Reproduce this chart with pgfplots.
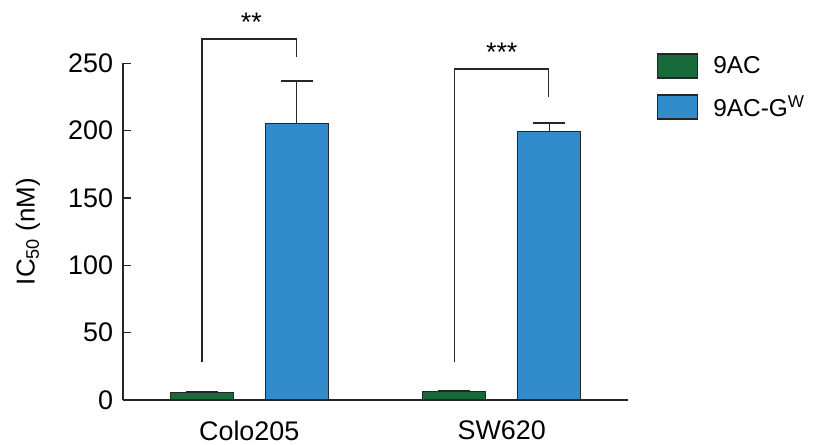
\documentclass[border=0pt]{standalone}
\usepackage{pgfplots}
\pgfplotsset{compat=1.18}
\usepackage{fontspec}
\setmainfont{Liberation Sans}
\definecolor{cGreen}{RGB}{24,106,58}
\definecolor{cBlue}{RGB}{50,140,204}
\definecolor{cEdge}{RGB}{38,38,38}

\begin{document}
\begin{tikzpicture}
\useasboundingbox (-123bp,-45bp) rectangle (693bp,400bp);
\begin{axis}[
    scale only axis,
    width=505bp, height=336.7bp,
    xmin=-0.5, xmax=1.5, ymin=0, ymax=250,
    clip=false,
    axis x line*=bottom, axis y line*=left,
    axis line style={cEdge, line width=1.4bp},
    ytick={0,50,100,150,200,250},
    xtick={0,1}, xticklabels={Colo205,SW620},
    x tick style={draw=none},
    y tick style={cEdge, line width=1.4bp},
    major tick length=8bp,
    tick align=inside,
    /pgf/number format/assume math mode=true,
    tick label style={font=\fontsize{27}{32}\selectfont},
    xticklabel style={yshift=-9bp},
    yticklabel style={xshift=-6.5bp},
    ybar, bar width=63bp,
    legend style={draw=none, fill=none, at={(rel axis cs:1.057,1.03)}, anchor=north west,
        font=\fontsize{24.5}{29}\selectfont, row sep=15bp, column sep=13bp, inner sep=0pt},
    legend cell align=left,
]
% 9AC
\addplot[fill=cGreen, draw=cEdge, line width=1.4bp, bar shift=-47.5bp,
    legend image code/.code={\draw[fill=cGreen, draw=cEdge, line width=1.4bp] (0bp,-12bp) rectangle (40bp,12bp);},
    error bars/.cd, y dir=plus, y explicit,
    error bar style={cEdge, line width=1.4bp},
    error mark options={rotate=90, cEdge, line width=1.4bp, mark size=16bp}]
    coordinates {(0,5.7) +- (0,0.4) (1,6.2) +- (0,0.4)};
% 9AC-GW
\addplot[fill=cBlue, draw=cEdge, line width=1.4bp, bar shift=47.5bp,
    legend image code/.code={\draw[fill=cBlue, draw=cEdge, line width=1.4bp] (0bp,-12bp) rectangle (40bp,12bp);},
    error bars/.cd, y dir=plus, y explicit,
    error bar style={cEdge, line width=1.4bp},
    error mark options={rotate=90, cEdge, line width=1.4bp, mark size=16bp}]
    coordinates {(0,205.5) +- (0,31.5) (1,199.2) +- (0,6.5)};
\legend{9AC, 9AC-G\textsuperscript{W}}

% significance brackets
\draw[cEdge, line width=1.4bp] (axis cs:-0.187,28) |- (axis cs:0.188,268) -- (axis cs:0.188,255);
\draw[cEdge, line width=1.4bp] (axis cs:0.814,28) |- (axis cs:1.186,245.8) -- (axis cs:1.186,225.2);
\node[anchor=base, font=\fontsize{27}{32}\selectfont] at (axis cs:0.008,273.5) {**};
\node[anchor=base, font=\fontsize{27}{32}\selectfont] at (axis cs:1.0,251) {***};

\node[rotate=90, font=\fontsize{26}{31}\selectfont] at (rel axis cs:-0.1881,0.5) {IC\textsubscript{50} (nM)};
\end{axis}
\end{tikzpicture}
\end{document}
